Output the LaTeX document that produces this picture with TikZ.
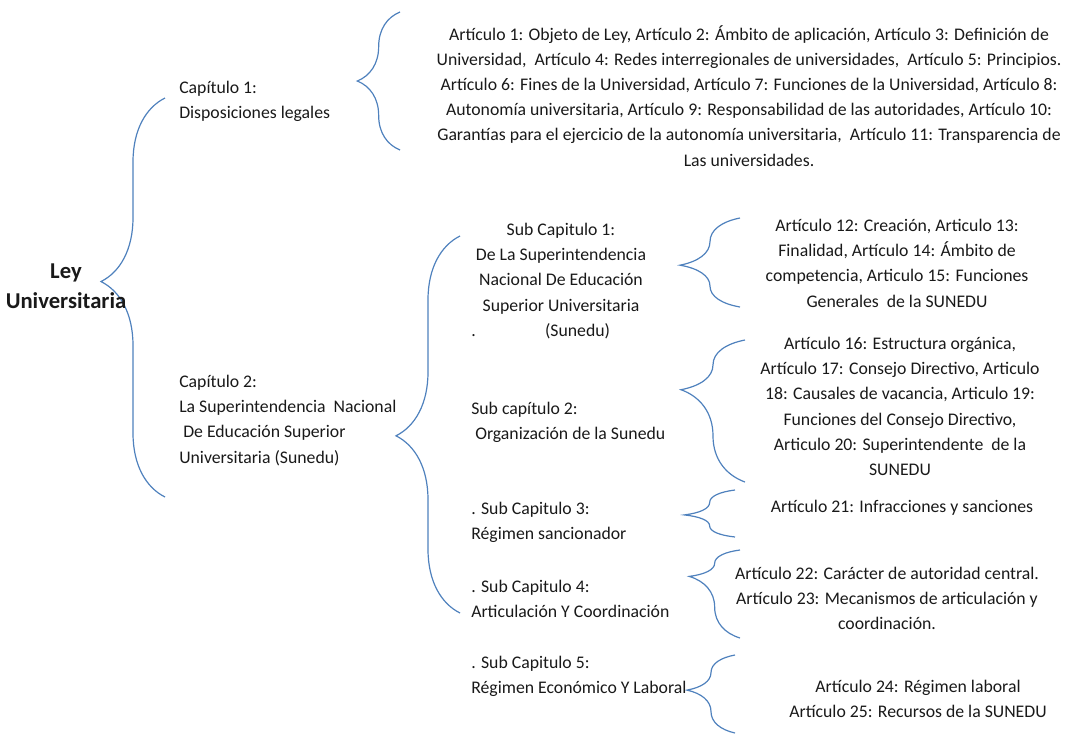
\documentclass[tikz,border=0pt]{standalone}
\usepackage{fontspec}
\setmainfont{Carlito}
\usetikzlibrary{decorations.pathreplacing}
\definecolor{br}{HTML}{4F81BD}
\tikzset{
 brc/.style={draw=br,line width=0.9pt,decorate,decoration={brace,amplitude=#1}},
 txt/.style={inner sep=0pt,font=\fontsize{13.3pt}{18.9pt}\selectfont,text=black!90},
 lt/.style={txt,anchor=north west,align=left},
 ct/.style={txt,anchor=north,align=center}
}
\begin{document}
\begin{tikzpicture}[x=0.75pt,y=-0.75pt]
\useasboundingbox (0,0) rectangle (1075,740);
% braces (drawn bottom to top so the tip points left)
\coordinate (m1) at (165,497); \coordinate (m2) at (165,98);
\draw[brc=48,decoration={aspect=0.54}] (m1) -- (m2);
\coordinate (c1a) at (400,150); \coordinate (c1b) at (400,12);
\draw[brc=32,decoration={aspect=0.5}] (c1a) -- (c1b);
\coordinate (c2a) at (460,613); \coordinate (c2b) at (460,236);
\draw[brc=48,decoration={aspect=0.47}] (c2a) -- (c2b);
\coordinate (s1a) at (740,307); \coordinate (s1b) at (740,218);
\draw[brc=45,decoration={aspect=0.47}] (s1a) -- (s1b);
\coordinate (s2a) at (745,482); \coordinate (s2b) at (745,340);
\draw[brc=48,decoration={aspect=0.65}] (s2a) -- (s2b);
\coordinate (s3a) at (735,537); \coordinate (s3b) at (735,490);
\draw[brc=38,decoration={aspect=0.47}] (s3a) -- (s3b);
\coordinate (s4a) at (740,638); \coordinate (s4b) at (740,550);
\draw[brc=38,decoration={aspect=0.7}] (s4a) -- (s4b);
\coordinate (s5a) at (735,733); \coordinate (s5b) at (735,655);
\draw[brc=36,decoration={aspect=0.55}] (s5a) -- (s5b);
% texts
\node[txt,align=center,font=\fontsize{17pt}{22.5pt}\selectfont\bfseries] (ley) at (66,286) {Ley\\Universitaria};
\node[lt] (cap1) at (179,81) {Capítulo 1:\\Disposiciones legales};
\node[ct] (a1) at (749,25) {Artículo 1: Objeto de Ley, Artículo 2: Ámbito de aplicación, Artículo 3: Definición de\\
Universidad,\ \ Artículo 4: Redes interregionales de universidades,\ \ Artículo 5: Principios.\\
Artículo 6: Fines de la Universidad, Artículo 7: Funciones de la Universidad, Artículo 8:\\
Autonomía universitaria, Artículo 9: Responsabilidad de las autoridades, Artículo 10:\\
Garantías para el ejercicio de la autonomía universitaria,\ \ Artículo 11: Transparencia de\\
Las universidades.};
\node[lt] (cap2) at (179,375) {Capítulo 2:\\La Superintendencia\ \ Nacional\\\ De Educación Superior\\Universitaria (Sunedu)};
\node[ct] (sub1) at (561,223) {Sub Capitulo 1:\\De La Superintendencia\\Nacional De Educación\\Superior Universitaria};
\node[lt] (sub1b) at (471,323) {.\hspace{52pt}(Sunedu)};
\node[lt] (sub2) at (471,402) {Sub capítulo 2:\\\ Organización de la Sunedu};
\node[lt] (sub3) at (471,502) {. Sub Capitulo 3:\\Régimen sancionador};
\node[lt] (sub4) at (471,580) {. Sub Capitulo 4:\\Articulación Y Coordinación};
\node[lt] (sub5) at (471,656) {. Sub Capitulo 5:\\Régimen Económico Y Laboral};
\node[ct] (a12) at (897,219) {Artículo 12: Creación, Articulo 13:\\Finalidad, Artículo 14: Ámbito de\\competencia, Articulo 15: Funciones\\Generales\ \ de la SUNEDU};
\node[ct] (a16) at (900,337) {Artículo 16: Estructura orgánica,\\Artículo 17: Consejo Directivo, Articulo\\18: Causales de vacancia, Articulo 19:\\Funciones del Consejo Directivo,\\Articulo 20: Superintendente\ \ de la\\SUNEDU};
\node[ct] (a21) at (902,500) {Artículo 21: Infracciones y sanciones};
\node[ct] (a22) at (887,567) {Artículo 22: Carácter de autoridad central.\\Artículo 23: Mecanismos de articulación y\\coordinación.};
\node[ct] (a24) at (918,680) {Artículo 24: Régimen laboral\\Artículo 25: Recursos de la SUNEDU};
\end{tikzpicture}
\end{document}
